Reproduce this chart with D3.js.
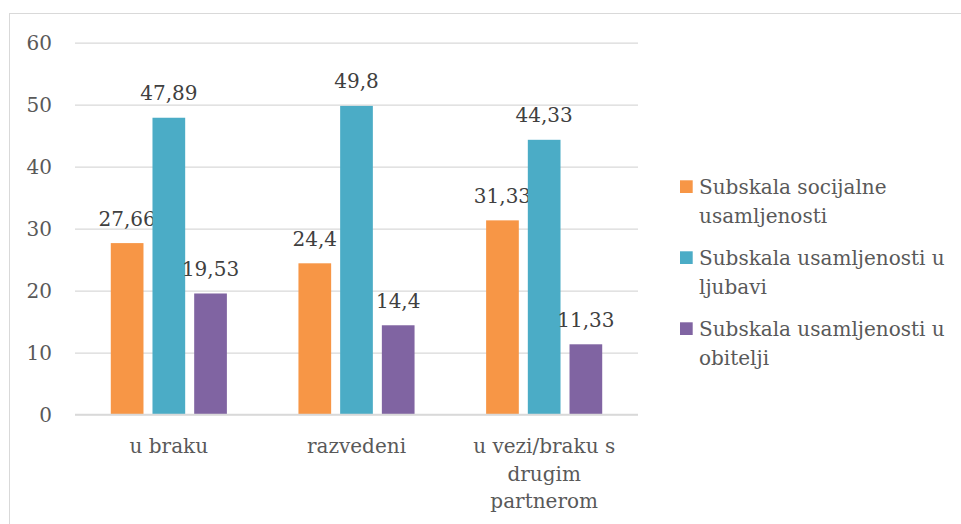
<!DOCTYPE html>
<html><head><meta charset="utf-8">
<script src="https://cdn.jsdelivr.net/npm/d3@7"></script>
<style>html,body{margin:0;padding:0;background:#fff;}svg{display:block;}</style>
</head><body>
<svg id="chart" width="961" height="524"></svg>
<script>
const categories = ["u braku", "razvedeni", "u vezi/braku s drugim partnerom"];
const seriesNames = ["Subskala socijalne usamljenosti", "Subskala usamljenosti u ljubavi", "Subskala usamljenosti u obitelji"];
const socijalne = [27.66, 24.4, 31.33];
const ljubavi = [47.89, 49.8, 44.33];
const obitelji = [19.53, 14.4, 11.33];
const yTicks = [0, 10, 20, 30, 40, 50, 60];
const colors = ["#F79646", "#4BACC6", "#8064A2"];

const seriesValues = [socijalne, ljubavi, obitelji];
const font = "DejaVu Serif";
const textColor = "#595959";
const svg = d3.select("#chart");

svg.append("rect").attr("x", 9.5).attr("y", 13.5).attr("width", 1000).attr("height", 600)
  .attr("fill", "none").attr("stroke", "#d9d9d9").attr("stroke-width", 1);

const plot = {left: 75, right: 638, top: 42.7, bottom: 414.5};
const x = d3.scaleBand().domain(categories).range([plot.left, plot.right]).paddingInner(0).paddingOuter(0);
const y = d3.scaleLinear().domain([0, 60]).range([plot.bottom, plot.top]);
const barW = 32.7, barStep = 41.7;
const xs = d3.scaleBand().domain(seriesNames).range([-barStep * 1.5, barStep * 1.5]);

// gridlines
const yAxis = d3.axisLeft(y).tickValues(yTicks).tickSize(-(plot.right - plot.left)).tickPadding(23).tickFormat(d3.format("d"));
const ga = svg.append("g").attr("transform", `translate(${plot.left},0)`).call(yAxis);
ga.select(".domain").remove();
ga.selectAll(".tick line").attr("stroke", "#d9d9d9").attr("stroke-width", 1.3);
ga.selectAll(".tick text").attr("font-family", font).attr("font-size", 20).attr("fill", textColor).attr("dy", "0.36em");

// bars
seriesNames.forEach((s, si) => {
  const g = svg.append("g");
  g.selectAll("rect").data(categories).join("rect")
    .attr("x", (c) => x(c) + x.bandwidth() / 2 + xs(s) + (barStep - barW) / 2)
    .attr("y", (c, i) => y(seriesValues[si][i]))
    .attr("width", barW)
    .attr("height", (c, i) => y(0) - y(seriesValues[si][i]))
    .attr("fill", colors[si]);
  g.selectAll("text").data(categories).join("text")
    .attr("x", (c) => x(c) + x.bandwidth() / 2 + xs(s) + barStep / 2)
    .attr("y", (c, i) => y(seriesValues[si][i]) - 17.5)
    .attr("text-anchor", "middle")
    .attr("font-family", font).attr("font-size", 20).attr("fill", "#404040")
    .text((c, i) => String(seriesValues[si][i]).replace(".", ","));
});

// baseline
svg.append("line").attr("x1", plot.left).attr("x2", plot.right).attr("y1", y(0)).attr("y2", y(0))
  .attr("stroke", "#d9d9d9").attr("stroke-width", 1.5);

function wrapLines(text, maxW, size) {
  const tmp = svg.append("text").attr("font-family", font).attr("font-size", size);
  const words = text.split(" ");
  const lines = [];
  let cur = "";
  words.forEach(w => {
    const t = cur ? cur + " " + w : w;
    tmp.text(t);
    if (tmp.node().getComputedTextLength() > maxW && cur) { lines.push(cur); cur = w; }
    else cur = t;
  });
  if (cur) lines.push(cur);
  tmp.remove();
  return lines;
}

// category labels
categories.forEach(c => {
  const lines = wrapLines(c, 155, 20);
  const t = svg.append("text").attr("text-anchor", "middle").attr("font-family", font)
    .attr("font-size", 20).attr("fill", textColor);
  lines.forEach((l, i) => t.append("tspan").attr("x", x(c) + x.bandwidth() / 2).attr("y", 452.7 + i * 27.8).text(l));
});

// legend
seriesNames.forEach((s, i) => {
  const by = 194 + i * 71;
  svg.append("rect").attr("x", 680).attr("y", by - 13.7).attr("width", 12.7).attr("height", 12.7).attr("fill", colors[i]);
  const lines = wrapLines(s, 255, 20);
  const t = svg.append("text").attr("font-family", font).attr("font-size", 20).attr("fill", textColor);
  lines.forEach((l, k) => t.append("tspan").attr("x", 699).attr("y", by + k * 28.5).text(l));
});
</script>
</body></html>
